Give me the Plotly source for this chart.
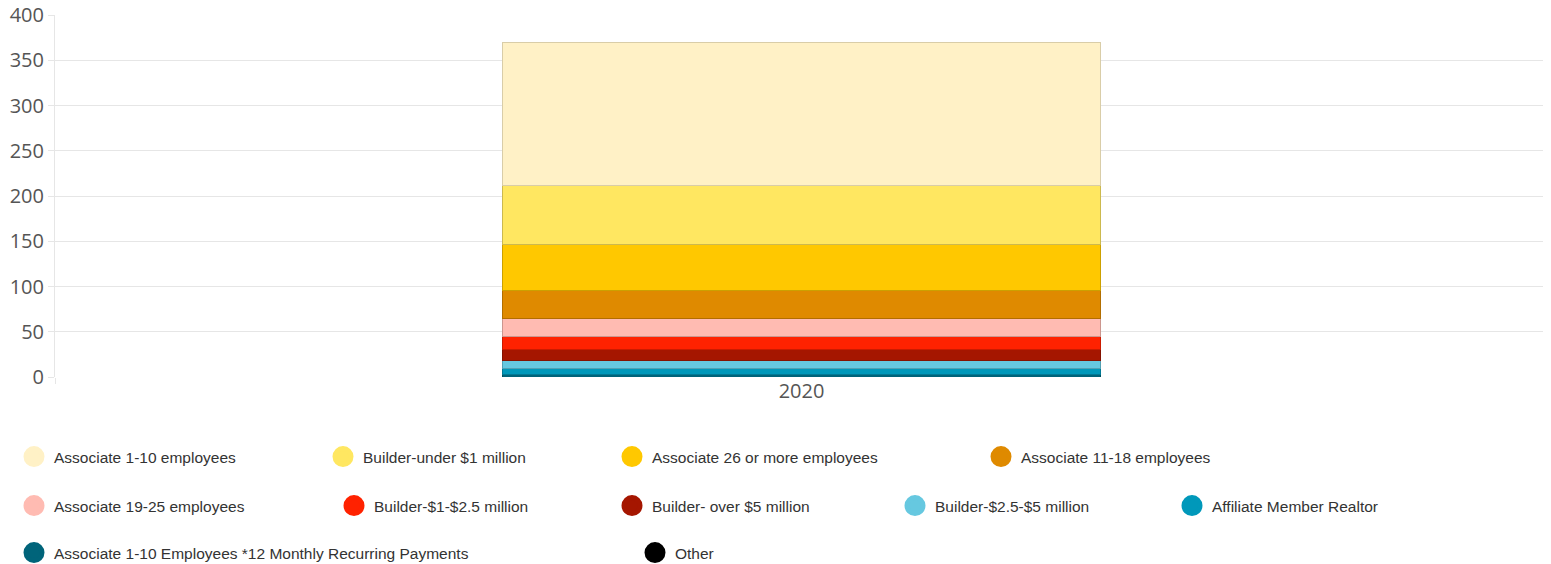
import plotly.graph_objects as go

# ---- data (bottom of stack first) ----
categories = ["2020"]
series_names = [
    "Other",
    "Associate 1-10 Employees *12 Monthly Recurring Payments",
    "Affiliate Member Realtor",
    "Builder-$2.5-$5 million",
    "Builder- over $5 million",
    "Builder-$1-$2.5 million",
    "Associate 19-25 employees",
    "Associate 11-18 employees",
    "Associate 26 or more employees",
    "Builder-under $1 million",
    "Associate 1-10 employees",
]
series_values = [0, 3, 6, 9, 12, 15, 20, 31, 50, 66, 158]
colors = ["#000000", "#00647A", "#0098BA", "#66C8E0", "#A51600", "#FF2200",
          "#FFBBB2", "#DF8A00", "#FFC800", "#FFE761", "#FFF1C6"]
edge_colors = ["#000000", "#00505F", "#007A95", "#52A0B3", "#841200", "#CC1B00",
               "#CC968E", "#B26E00", "#CCA000", "#CCB94E", "#D9CDA8"]

# legend order (as displayed) and positions (page pixels)
legend_order = [
    "Associate 1-10 employees", "Builder-under $1 million", "Associate 26 or more employees",
    "Associate 11-18 employees", "Associate 19-25 employees", "Builder-$1-$2.5 million",
    "Builder- over $5 million", "Builder-$2.5-$5 million", "Affiliate Member Realtor",
    "Associate 1-10 Employees *12 Monthly Recurring Payments", "Other",
]
legend_cx = [34, 343, 632, 1001, 34, 354, 632, 915, 1192, 34, 655]
legend_cy = [457, 457, 457, 457, 506, 506, 506, 506, 506, 553, 553]

W, H = 1543, 556   # page has an 8px body margin
OFF = 8

fig = go.Figure()
for name, val, col, ec in zip(series_names, series_values, colors, edge_colors):
    fig.add_trace(go.Bar(
        x=categories, y=[val], name=name, showlegend=False,
        marker=dict(color=col, line=dict(color=ec, width=1)),
    ))

layout_legends = {}
for i, name in enumerate(legend_order):
    col = colors[series_names.index(name)]
    key = "legend" if i == 0 else f"legend{i+1}"
    fig.add_trace(go.Scatter(
        x=[categories[0]], y=[None], mode="markers", name=name, legend=key,
        hoverinfo="skip",
        marker=dict(symbol="circle", size=16, color=col, line=dict(color=col, width=5)),
    ))
    layout_legends[key] = dict(
        xref="container", yref="container",
        x=(legend_cx[i] - 20 - OFF) / W, y=1 - (legend_cy[i] - OFF) / H,
        xanchor="left", yanchor="middle",
        bgcolor="rgba(0,0,0,0)", borderwidth=0,
        font=dict(family="Liberation Sans, Arial", size=15.5, color="#333333"),
    )

fig.update_layout(
    width=W, height=H,
    barmode="stack", bargap=0.6,
    paper_bgcolor="white", plot_bgcolor="white",
    margin=dict(l=55 - OFF, r=3, t=15 - OFF, b=OFF + H - 377, autoexpand=False),
    font=dict(family="Open Sans, Noto Sans", color="#555555"),
    xaxis=dict(
        type="category",
        tickson="boundaries", showgrid=True, gridcolor="#e6e6e6", gridwidth=1,
        ticks="outside", ticklen=6, tickcolor="#e6e6e6",
        tickfont=dict(size=20, color="#555555"), zeroline=False,
        automargin=False,
    ),
    yaxis=dict(
        range=[0, 400], dtick=50, showgrid=True, gridcolor="#e6e6e6",
        ticks="outside", ticklen=6, tickcolor="#e6e6e6",
        showline=True, linecolor="#e6e6e6",
        tickfont=dict(size=20, color="#555555"), zeroline=False,
        ticklabeloverflow="allow",
        automargin=False,
    ),
    **layout_legends,
)

fig.write_html("out.html")
